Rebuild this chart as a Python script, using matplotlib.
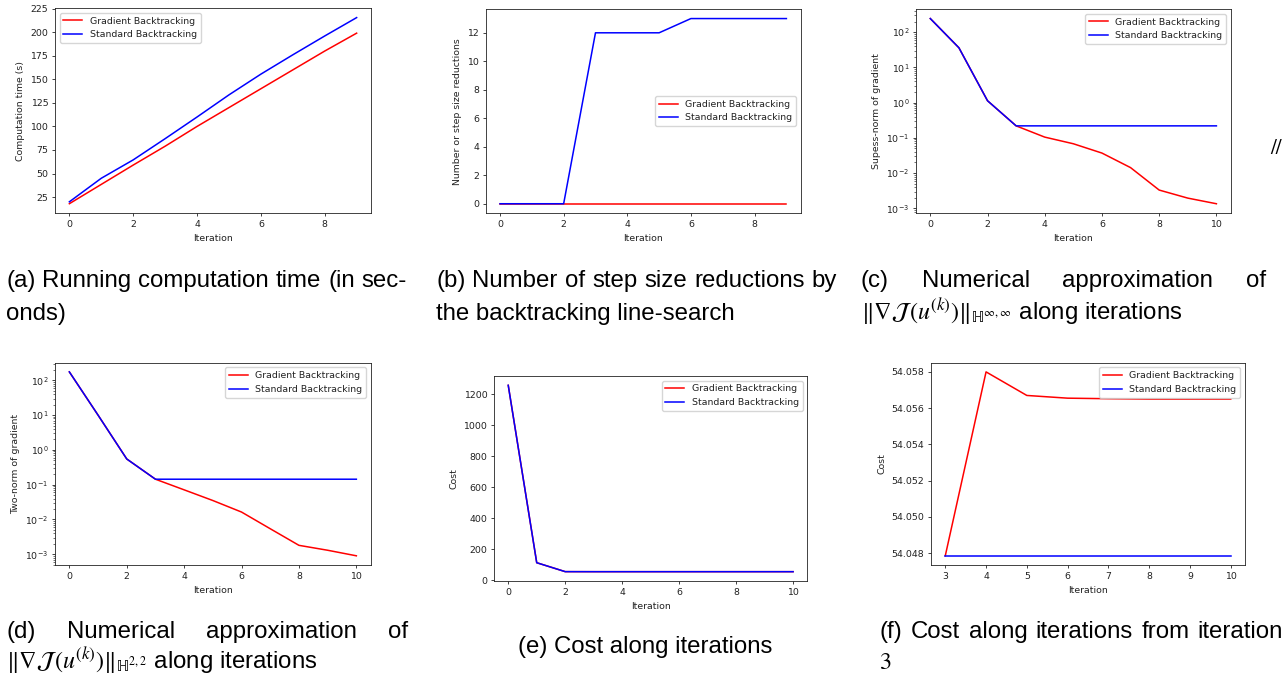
import matplotlib
matplotlib.use('Agg')
import matplotlib.pyplot as plt

# ---------------- data ----------------
iters_a = [0, 1, 2, 3, 4, 5, 6, 7, 8, 9]
time_grad = [18, 38.5, 59, 79, 100, 120, 140, 160, 180, 199]
time_std = [20, 45, 64.5, 87, 110, 133.5, 155.5, 176, 196, 215.5]

red_grad = [0, 0, 0, 0, 0, 0, 0, 0, 0, 0]
red_std = [0, 0, 0, 12, 12, 12, 13, 13, 13, 13]

iters_c = [0, 1, 2, 3, 4, 5, 6, 7, 8, 9, 10]
sup_grad = [243, 36, 1.13, 0.219, 0.105, 0.068, 0.037, 0.0143, 0.0033, 0.00195, 0.00135]
sup_std = [243, 36, 1.13, 0.219, 0.219, 0.219, 0.219, 0.219, 0.219, 0.219, 0.219]

two_grad = [175, 10, 0.548, 0.1435, 0.071, 0.035, 0.0163, 0.0054, 0.0018, 0.0013, 0.0009]
two_std = [175, 10, 0.548, 0.1435, 0.1435, 0.1435, 0.1435, 0.1435, 0.1435, 0.1435, 0.1435]

cost_grad = [1258, 112, 54.3, 54.04785, 54.058, 54.0567, 54.05655, 54.05652, 54.0565, 54.0565, 54.0565]
cost_std = [1258, 112, 54.3, 54.04785, 54.04785, 54.04785, 54.04785, 54.04785, 54.04785, 54.04785, 54.04785]

labels = ['Gradient Backtracking', 'Standard Backtracking']

# ---------------- style ----------------
fs = 6.75
plt.rcParams.update({
    'font.family': ['DejaVu Sans'],
    'font.size': fs,
    'axes.labelsize': fs,
    'xtick.labelsize': fs,
    'ytick.labelsize': fs,
    'legend.fontsize': fs,
    'axes.linewidth': 0.6,
    'lines.linewidth': 1.1,
    'xtick.major.size': 2.4, 'ytick.major.size': 2.4,
    'xtick.major.width': 0.6, 'ytick.major.width': 0.6,
    'xtick.minor.size': 1.4, 'ytick.minor.size': 1.4,
    'xtick.minor.width': 0.45, 'ytick.minor.width': 0.45,
    'xtick.major.pad': 2.4, 'ytick.major.pad': 2.4,
    'axes.labelpad': 3.8,
    'mathtext.fontset': 'stix',
    'text.color': '#222222',
    'axes.labelcolor': '#222222',
    'xtick.color': '#222222',
    'ytick.color': '#222222',
    'axes.edgecolor': '#222222',
})

W, H = 1286, 675
fig = plt.figure(figsize=(W / 100, H / 100), dpi=100)


def add_ax(left, top, right, bottom):
    return fig.add_axes([left / W, 1 - bottom / H, (right - left) / W, (bottom - top) / H])


def draw(ax, x, yg, ys, ylabel, loc, log=False):
    ax.plot(x, yg, color='red', label=labels[0])
    ax.plot(x, ys, color='blue', label=labels[1])
    if log:
        ax.set_yscale('log')
    ax.set_xlabel('Iteration')
    ax.set_ylabel(ylabel)
    ax.legend(loc=loc)


ax_a = add_ax(55, 8.3, 371, 213)
draw(ax_a, iters_a, time_grad, time_std, 'Computation time (s)', 'upper left')

ax_b = add_ax(485.7, 9.3, 800.7, 213)
draw(ax_b, iters_a, red_grad, red_std, 'Number or step size reductions', 'center right')

ax_c = add_ax(916, 9.3, 1230.7, 213)
draw(ax_c, iters_c, sup_grad, sup_std, 'Supess-norm of gradient', 'upper right', log=True)

ax_d = add_ax(55, 362.7, 370.7, 565)
draw(ax_d, iters_c, two_grad, two_std, 'Two-norm of gradient', 'upper right', log=True)

ax_e = add_ax(494, 376, 807.3, 581)
draw(ax_e, iters_c, cost_grad, cost_std, 'Cost', 'upper right')

ax_f = add_ax(931, 362.7, 1245, 565)
draw(ax_f, iters_c[3:], cost_grad[3:], cost_std[3:], 'Cost', 'upper right')
ax_f.ticklabel_format(axis='y', useOffset=False)

# ---------------- captions ----------------
cap_fs = 17.3
cap_kw = dict(fontsize=cap_fs, family=['Liberation Sans', 'DejaVu Sans'], color='black', va='baseline')
renderer = fig.canvas.get_renderer()


def ftext(x, y, s, ha='left'):
    return fig.text(x / W, 1 - y / H, s, ha=ha, **cap_kw)


def justified(x0, x1, y, words):
    texts = [ftext(x0, y, w) for w in words]
    widths = [t.get_window_extent(renderer).width for t in texts]
    gap = (x1 - x0 - sum(widths)) / (len(words) - 1)
    x = x0
    for t, w in zip(texts, widths):
        t.set_x(x / W)
        x += w + gap


norm_inf = r'$\Vert\nabla\mathcal{J}\,(u^{(k)})\Vert_{\mathrm{ℍ}^{\infty,\infty}}$ along iterations'
norm_two = r'$\Vert\nabla\mathcal{J}\,(u^{(k)})\Vert_{\mathrm{ℍ}^{2,2}}$ along iterations'

justified(6, 407, 287, '(a) Running computation time (in sec-'.split())
ftext(6, 320, 'onds)')

justified(436, 837, 287, '(b) Number of step size reductions by'.split())
ftext(436, 320, 'the backtracking line-search')

justified(861, 1266, 287, ['(c)', 'Numerical', 'approximation', 'of'])
ftext(861, 320, norm_inf)

justified(6, 408, 638, ['(d)', 'Numerical', 'approximation', 'of'])
ftext(6, 669, norm_two)

ftext(645, 653, '(e) Cost along iterations', ha='center')

justified(880, 1283, 638, '(f) Cost along iterations from iteration'.split())
fig.text(880 / W, 1 - 669 / H, '3', fontsize=cap_fs, family=['STIXGeneral', 'DejaVu Serif'],
         color='black', va='baseline')

fig.text(1276 / W, 1 - 149 / H, '//', fontsize=15, family=['STIXGeneral', 'DejaVu Serif'],
         color='black', ha='center', va='center')

fig.savefig('out.png', dpi=100)
